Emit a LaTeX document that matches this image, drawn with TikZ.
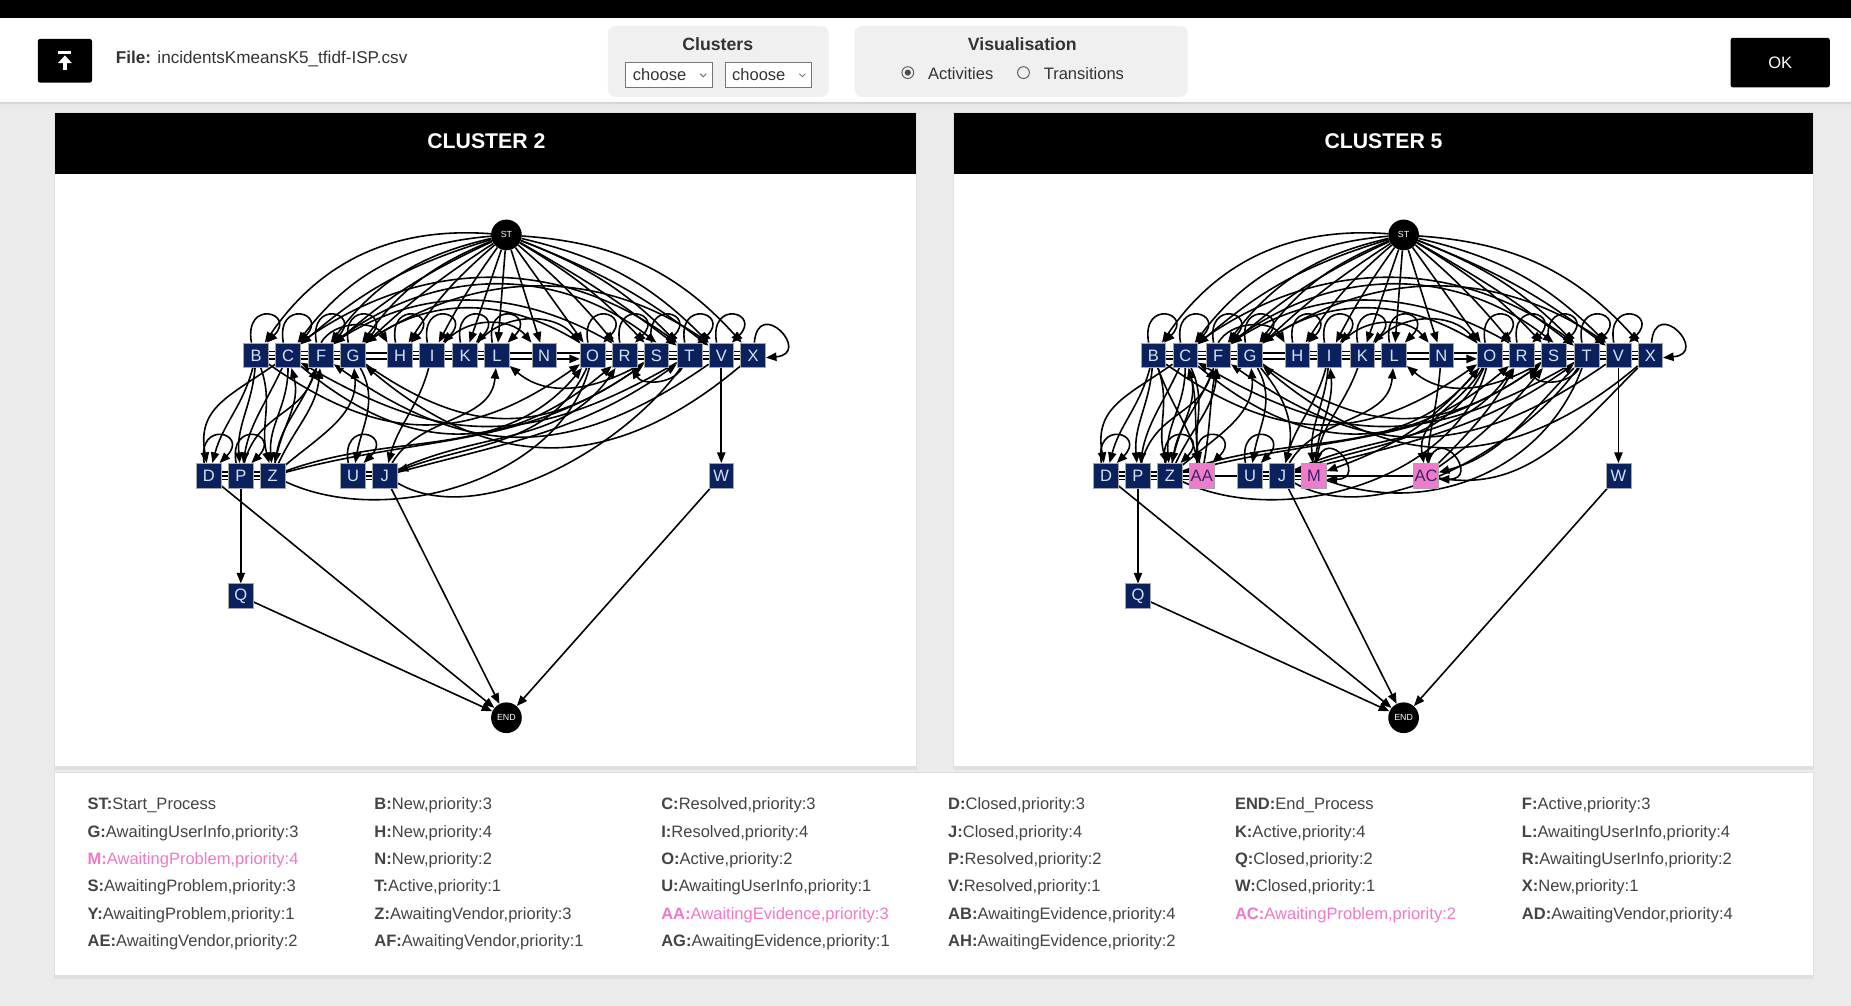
\documentclass[tikz,border=0pt]{standalone}
\usepackage{fontspec}
\setmainfont{Liberation Sans}
\usetikzlibrary{arrows.meta,calc}
\pgfdeclarelayer{background}
\pgfdeclarelayer{edges}
\pgfsetlayers{background,edges,main}

\definecolor{pagebg}{HTML}{EBEBEB}
\definecolor{boxgray}{HTML}{F0F0F0}
\definecolor{navy}{HTML}{0A215E}
\definecolor{nodetext}{HTML}{D5E1F7}
\definecolor{pinkfill}{HTML}{EF7BCB}
\definecolor{pinktext}{HTML}{3A2566}
\definecolor{legpink}{HTML}{F078C8}
\definecolor{legtext}{HTML}{444444}
\definecolor{hdrtext}{HTML}{333333}
\definecolor{selborder}{HTML}{767676}

\tikzset{
  nd/.style={rectangle, draw=gray!70, line width=0.5pt, fill=navy, text=nodetext,
    minimum width=21pt, minimum height=21pt, inner sep=0pt,
    font=\fontsize{14}{14}\selectfont},
  pk/.style={nd, fill=pinkfill, text=pinktext},
  term/.style={circle, fill=black, text=white, minimum size=26pt, inner sep=0pt,
    font=\fontsize{7.5}{8}\selectfont},
  e/.style={line width=1.35pt, -{Triangle[length=9pt,width=7pt]}},
  ln/.style={line width=1.35pt},
  lg/.style={anchor=base west, inner sep=0pt, font=\fontsize{14}{16}\selectfont},
  ttl/.style={text=white, font=\bfseries\fontsize{18}{20}\selectfont},
}

% legend entry: column, row, key, description, colour
\newcommand\lgitem[5]{%
  \node[lg, text=#5] (lg-#3) at (74+243*#1,-686-23.2*#2) {\textbf{#3:}#4};}

% nodes shared by both cluster graphs: prefix, horizontal offset
\newcommand\clusternodes[2]{%
  \node[term] (#1ST) at (429+#2,-199) {ST};
  \node[term] (#1END) at (429+#2,-608) {END};
  \foreach \n/\x in {B/217,C/244,F/272,G/299,H/339,I/366,K/394,L/421,N/461,
                     O/502,R/529,S/556,T/584,V/611,X/638}
    {\node[nd] (#1\n) at (\x+#2,-301) {\n};}
  \foreach \n/\x in {D/177,P/204,Z/231,U/299,J/326,W/611}
    {\node[nd] (#1\n) at (\x+#2,-403) {\n};}
  \node[nd] (#1Q) at (204+#2,-505) {Q};
}

\newcommand\triple[3]{%
  \draw[ln] ([yshift=3.2]#1#2.east) -- ([yshift=3.2]#1#3.west);
  \draw[ln] (#1#2.east) -- (#1#3.west);
  \draw[ln] ([yshift=-3.2]#1#2.east) -- ([yshift=-3.2]#1#3.west);}

\newcommand\toploop[2]{%
  \draw[e] ([xshift=-4]#1#2.north) .. controls +(100:38) and +(45:36) .. ([xshift=9]#1#2.north);}

% connectors shared by both cluster graphs
\newcommand\commonedges[1]{%
  % fan out of the start node
  \draw[e] (#1ST) to[bend right=30] (#1B);
  \draw[e] (#1ST) to[bend right=24] (#1C);
  \draw[e] (#1ST) to[bend right=12] (#1C);
  \draw[e] (#1ST) to[bend right=20] (#1F);
  \draw[e] (#1ST) to[bend right=8] (#1F);
  \draw[e] (#1ST) to[bend right=16] (#1G);
  \draw[e] (#1ST) to[bend right=5] (#1G);
  \draw[e] (#1ST) to[bend right=8] (#1H);
  \draw[e] (#1ST) to[bend right=4] (#1I);
  \draw[e] (#1ST) -- (#1K);
  \draw[e] (#1ST) -- (#1L);
  \draw[e] (#1ST) -- (#1N);
  \draw[e] (#1ST) -- (#1O);
  \draw[e] (#1ST) to[bend left=5] (#1R);
  \draw[e] (#1ST) to[bend left=8] (#1S);
  \draw[e] (#1ST) to[bend left=4] (#1T);
  \draw[e] (#1ST) to[bend left=12] (#1T);
  \draw[e] (#1ST) to[bend left=8] (#1V);
  \draw[e] (#1ST) to[bend left=16] (#1V);
  \draw[e] (#1ST) to[bend left=22] (#1X);
  % arcs over the top row
  \draw[e] (#1C.north east) to[out=36,in=144] (#1T.north west);
  \draw[e] (#1F.north east) to[out=38,in=142] (#1S.north);
  \draw[e] (#1G.north east) to[out=34,in=146] (#1V.north west);
  \draw[e] (#1O.north west) to[out=148,in=34] (#1G.north east);
  \draw[e] (#1R.north west) to[out=150,in=32] (#1F.north east);
  \draw[e] (#1F.north) to[out=60,in=120] (#1H.north west);
  \draw[e] (#1K.north east) to[out=50,in=130] (#1O.north west);
  \draw[e] (#1I.north east) to[out=50,in=130] (#1N.north west);
  % neighbours in the top row
  \triple{#1}{B}{C}\triple{#1}{C}{F}\triple{#1}{F}{G}
  \triple{#1}{H}{I}\triple{#1}{I}{K}\triple{#1}{K}{L}
  \triple{#1}{O}{R}\triple{#1}{R}{S}\triple{#1}{S}{T}
  \triple{#1}{T}{V}\triple{#1}{V}{X}
  \draw[ln] ([yshift=2]#1G.east) -- ([yshift=2]#1H.west);
  \draw[ln] ([yshift=-3]#1G.east) -- ([yshift=-3]#1H.west);
  \draw[ln] ([yshift=2]#1L.east) -- ([yshift=2]#1N.west);
  \draw[ln] ([yshift=-3]#1L.east) -- ([yshift=-3]#1N.west);
  \draw[ln] ([yshift=2]#1N.east) -- ([yshift=2]#1O.west);
  \draw[e] ([yshift=-3]#1N.east) -- ([yshift=-3]#1O.west);
  % self loops
  \foreach \n in {B,C,F,G,H,I,K,L,O,R,S,T,V}{\toploop{#1}{\n}}
  \draw[e] ([xshift=1]#1X.north) .. controls +(85:40) and +(5:40) .. ([yshift=-2]#1X.east);
  % top row to second row and back
  \draw[e] (#1B) to[out=255,in=75] (#1D);
  \draw[e] (#1C) to[out=215,in=100,looseness=1.2] (#1D);
  \draw[e] (#1B) to[out=265,in=95] (#1P);
  \draw[e] (#1C) to[out=245,in=80] (#1P);
  \draw[e] (#1B) to[out=290,in=105] (#1Z);
  \draw[e] (#1C) to[out=270,in=95] (#1Z);
  \draw[e] (#1F) to[out=250,in=80] (#1Z);
  \draw[e] (#1Z) to[out=80,in=285] (#1C);
  \draw[e] (#1Z) to[out=65,in=265] (#1F);
  \draw[e] (#1P) to[out=75,in=250,looseness=1.1] (#1F);
  \draw[e] (#1Z) to[out=40,in=275] (#1G);
  \draw[e] (#1G) to[out=-60,in=80] (#1U);
  \draw[e] (#1I) to[out=255,in=75] (#1J);
  \draw[e] (#1J) to[out=60,in=265] (#1L);
  \draw[e] (#1Z) to[out=20,in=230] (#1O);
  \draw[e] (#1Z) to[out=15,in=215] (#1S);
  \draw[e] (#1J) to[out=25,in=235] (#1R);
  \draw[e] (#1J) to[out=15,in=215] (#1T);
  \draw[e] (#1O) to[out=245,in=20] (#1J);
  \draw[ln] (#1T) to[out=235,in=-30,looseness=0.8] (#1J);
  \draw[ln] (#1O) to[out=255,in=-25,looseness=0.9] (#1Z);
  % long sweeps below the top row
  \draw[e] (#1C) to[out=-40,in=-140,looseness=1.15] (#1R);
  \draw[e] (#1B) to[out=-35,in=-145,looseness=1.15] (#1O);
  \draw[e] (#1X) to[out=-140,in=-40,looseness=1.15] (#1G);
  \draw[e] (#1V) to[out=-145,in=-35,looseness=1.15] (#1F);
  \draw[e] (#1T) to[out=-150,in=-30,looseness=1.15] (#1C);
  \draw[e] (#1S) to[out=-150,in=-40] (#1L);
  \draw[e] (#1T) to[out=-120,in=-60] (#1R);
  \draw[e] (#1G) to[out=-35,in=-145,looseness=1.15] (#1S);
  % second row neighbours
  \triple{#1}{D}{P}\triple{#1}{P}{Z}\triple{#1}{U}{J}
  \toploop{#1}{D}\toploop{#1}{U}
  % towards the end node
  \draw[e] (#1V) -- (#1W);
  \draw[e] (#1P) -- (#1Q);
  \draw[e] (#1Q) -- (#1END);
  \draw[e] (#1D) -- (#1END);
  \draw[e] (#1J) -- (#1END);
  \draw[e] (#1W) -- (#1END);
}

\begin{document}
\begin{tikzpicture}[x=1pt,y=1pt]
\useasboundingbox (0,0) rectangle (1568,-852);

\begin{pgfonlayer}{background}
  \fill[pagebg] (0,0) rectangle (1568,-852);
  % header band
  \fill[black!16] (0,-86) rectangle (1568,-88);
  \fill[black!9] (0,-88) rectangle (1568,-90.5);
  \fill[white] (0,-15) rectangle (1568,-86);
  \fill[black] (0,0) rectangle (1568,-15);
  \fill[boxgray, rounded corners=6pt] (515,-22) rectangle (702,-82);
  \fill[boxgray, rounded corners=6pt] (724,-22) rectangle (1006,-82);
  % cluster panels
  \foreach \xa/\xb in {47/776, 808/1536}{
    \fill[black!12] (\xa-1,-95) rectangle (\xb+1,-652);
    \fill[white] (\xa,-147) rectangle (\xb,-649);
    \fill[black] (\xa,-96) rectangle (\xb,-147);
  }
  % legend panel
  \fill[black!12] (46,-654) rectangle (1537,-829);
  \fill[white] (47,-655) rectangle (1536,-826);
\end{pgfonlayer}

% ---------- header ----------
\node[fill=black, rounded corners=2pt, minimum width=46pt, minimum height=37pt, inner sep=0pt]
  (upload) at (55,-51.5) {};
\fill[white] ($(upload.center)+(-5.5,8)$) rectangle ($(upload.center)+(5.5,6)$);
\fill[white] ($(upload.center)+(0,4.5)$) -- ($(upload.center)+(6,-2)$) -- ($(upload.center)+(-6,-2)$) -- cycle;
\fill[white] ($(upload.center)+(-1.7,-2)$) rectangle ($(upload.center)+(1.7,-7.5)$);

\node[anchor=base west, inner sep=0pt, text=hdrtext, font=\fontsize{14.5}{16}\selectfont]
  (file) at (98,-54) {\textbf{File:} incidentsKmeansK5\_tfidf-ISP.csv};

\node[text=hdrtext, font=\bfseries\fontsize{15}{17}\selectfont] (clusters) at (608,-37) {Clusters};
\node[draw=selborder, fill=white, minimum width=73pt, minimum height=21pt, inner sep=0pt]
  (sel1) at (566.5,-63.5) {};
\node[draw=selborder, fill=white, minimum width=73pt, minimum height=21pt, inner sep=0pt]
  (sel2) at (650.5,-63.5) {};
\node[anchor=base west, inner sep=0pt, text=hdrtext, font=\fontsize{14}{16}\selectfont]
  (sel1t) at (536,-68.5) {choose};
\node[anchor=base west, inner sep=0pt, text=hdrtext, font=\fontsize{14}{16}\selectfont]
  (sel2t) at (620,-68.5) {choose};
\foreach \s in {sel1,sel2}{
  \draw[black!60, line width=0.7pt] ($(\s.east)+(-10,1)$) -- ($(\s.east)+(-7.5,-1.5)$) -- ($(\s.east)+(-5,1)$);
}

\node[text=hdrtext, font=\bfseries\fontsize{15}{17}\selectfont] (visu) at (866,-37) {Visualisation};
\node[circle, draw=black!65, line width=0.8pt, minimum size=10pt, inner sep=0pt] (rad1) at (769,-61.5) {};
\fill[black!70] (rad1.center) circle (2.6);
\node[anchor=base west, inner sep=0pt, text=hdrtext, font=\fontsize{14}{16}\selectfont]
  (act) at (786,-67.5) {Activities};
\node[circle, draw=black!65, line width=0.8pt, minimum size=10pt, inner sep=0pt] (rad2) at (867,-61.5) {};
\node[anchor=base west, inner sep=0pt, text=hdrtext, font=\fontsize{14}{16}\selectfont]
  (trans) at (884,-67.5) {Transitions};

\node[fill=black, rounded corners=2pt, minimum width=84pt, minimum height=42pt, inner sep=0pt,
  text=white, font=\fontsize{14}{16}\selectfont] (ok) at (1508,-53) {OK};

% ---------- panel titles ----------
\node[ttl] (title2) at (412,-120) {CLUSTER 2};
\node[ttl] (title5) at (1172,-120) {CLUSTER 5};

% ---------- cluster 2 ----------
\clusternodes{p}{0}

% ---------- cluster 5 ----------
\clusternodes{q}{760}
\node[pk] (qAA) at (1018,-403) {AA};
\node[pk] (qM) at (1113,-403) {M};
\node[pk] (qAC) at (1208,-403) {AC};

\begin{pgfonlayer}{edges}
  \commonedges{p}
  \toploop{p}{P}

  \commonedges{q}
  \toploop{q}{Z}\toploop{q}{AA}
  \triple{q}{Z}{AA}\triple{q}{J}{M}
  \draw[ln] (qAA.east) -- (qU.west);
  \draw[ln] (qM.east) -- (qAC.west);
  \draw[e] (qB) to[out=290,in=105] (qAA);
  \draw[e] (qC) to[out=295,in=100] (qAA);
  \draw[e] (qAA) to[out=100,in=285] (qC);
  \draw[e] (qAA) to[out=80,in=260] (qF);
  \draw[e] (qI) to[out=265,in=95] (qM);
  \draw[e] (qM) to[out=85,in=275] (qI);
  \draw[e] (qK) to[out=250,in=80] (qM);
  \draw[e] (qO) to[out=230,in=20] (qM);
  \draw[e] ([xshift=2]qM.north) .. controls +(75:36) and +(0:36) .. ([yshift=-3]qM.east);
  \draw[e] (qN) to[out=265,in=85] (qAC);
  \draw[e] (qO) to[out=240,in=100] (qAC);
  \draw[e] ([xshift=2]qAC.north) .. controls +(75:36) and +(0:36) .. ([yshift=-3]qAC.east);
  \draw[e] (qT) to[out=225,in=15] (qAC);
  \draw[e] (qAC) to[out=45,in=240] (qR);
  \draw[e] (qAC) to[out=35,in=230] (qS);
  \draw[ln] (qAC) to[out=-10,in=225] (qX);
  \draw[ln] (qM) to[out=-20,in=250] (qT);
  \draw[e] (qG) to[out=-50,in=75] (qJ);
\end{pgfonlayer}

% ---------- legend ----------
\lgitem{0}{0}{ST}{Start\_Process}{legtext}
\lgitem{1}{0}{B}{New,priority:3}{legtext}
\lgitem{2}{0}{C}{Resolved,priority:3}{legtext}
\lgitem{3}{0}{D}{Closed,priority:3}{legtext}
\lgitem{4}{0}{END}{End\_Process}{legtext}
\lgitem{5}{0}{F}{Active,priority:3}{legtext}
\lgitem{0}{1}{G}{AwaitingUserInfo,priority:3}{legtext}
\lgitem{1}{1}{H}{New,priority:4}{legtext}
\lgitem{2}{1}{I}{Resolved,priority:4}{legtext}
\lgitem{3}{1}{J}{Closed,priority:4}{legtext}
\lgitem{4}{1}{K}{Active,priority:4}{legtext}
\lgitem{5}{1}{L}{AwaitingUserInfo,priority:4}{legtext}
\lgitem{0}{2}{M}{AwaitingProblem,priority:4}{legpink}
\lgitem{1}{2}{N}{New,priority:2}{legtext}
\lgitem{2}{2}{O}{Active,priority:2}{legtext}
\lgitem{3}{2}{P}{Resolved,priority:2}{legtext}
\lgitem{4}{2}{Q}{Closed,priority:2}{legtext}
\lgitem{5}{2}{R}{AwaitingUserInfo,priority:2}{legtext}
\lgitem{0}{3}{S}{AwaitingProblem,priority:3}{legtext}
\lgitem{1}{3}{T}{Active,priority:1}{legtext}
\lgitem{2}{3}{U}{AwaitingUserInfo,priority:1}{legtext}
\lgitem{3}{3}{V}{Resolved,priority:1}{legtext}
\lgitem{4}{3}{W}{Closed,priority:1}{legtext}
\lgitem{5}{3}{X}{New,priority:1}{legtext}
\lgitem{0}{4}{Y}{AwaitingProblem,priority:1}{legtext}
\lgitem{1}{4}{Z}{AwaitingVendor,priority:3}{legtext}
\lgitem{2}{4}{AA}{AwaitingEvidence,priority:3}{legpink}
\lgitem{3}{4}{AB}{AwaitingEvidence,priority:4}{legtext}
\lgitem{4}{4}{AC}{AwaitingProblem,priority:2}{legpink}
\lgitem{5}{4}{AD}{AwaitingVendor,priority:4}{legtext}
\lgitem{0}{5}{AE}{AwaitingVendor,priority:2}{legtext}
\lgitem{1}{5}{AF}{AwaitingVendor,priority:1}{legtext}
\lgitem{2}{5}{AG}{AwaitingEvidence,priority:1}{legtext}
\lgitem{3}{5}{AH}{AwaitingEvidence,priority:2}{legtext}
\end{tikzpicture}
\end{document}
